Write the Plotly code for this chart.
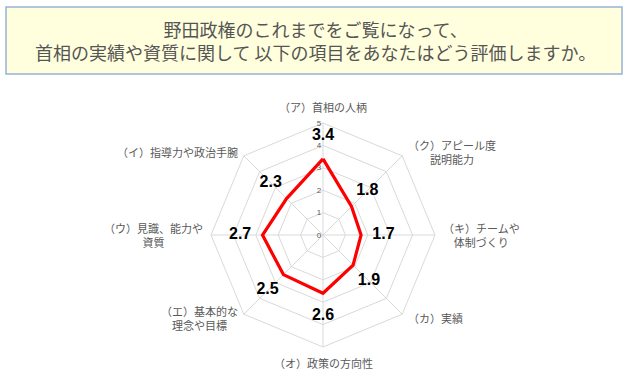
import math
import plotly.graph_objects as go

categories = ["（ア）首相の人柄", "（イ）指導力や政治手腕", "（ウ）見識、能力や<br>資質",
              "（エ）基本的な<br>理念や目標", "（オ）政策の方向性", "（カ）実績",
              "（キ）チームや<br>体制づくり", "（ク）アピール度<br>説明能力"]
values = [3.4, 2.3, 2.7, 2.5, 2.6, 1.9, 1.7, 1.8]
value_labels = ["3.4", "2.3", "2.7", "2.5", "2.6", "1.9", "1.7", "1.8"]
title_lines = ["野田政権のこれまでをご覧になって、",
               "首相の実績や資質に関して 以下の項目をあなたはどう評価しますか。"]

JP = "Noto Sans CJK JP"
W, H = 630, 392
cx, cy, R = 323, 235, 112

fig = go.Figure()
fig.add_trace(go.Scatterpolar(
    r=values + values[:1], theta=categories + categories[:1],
    mode="lines", line=dict(color="#FF0000", width=3.2), hoverinfo="skip", showlegend=False))
fig.add_trace(go.Scatterpolar(
    r=[v + 1.0 for v in values], theta=categories, mode="text",
    text=["<b>%s</b>" % t for t in value_labels],
    textfont=dict(family="Liberation Sans", size=16, color="#000000"),
    textposition="middle center", showlegend=False, hoverinfo="skip"))

# category labels as centred annotations around the polygon
annotations = []
n = len(categories)
for i, cat in enumerate(categories):
    ang = math.radians(90 + 360.0 * i / n)
    ca, sa = math.cos(ang), math.sin(ang)
    px = cx + (R + 6) * ca
    py = cy - (R + 6) * sa
    xa = "left" if ca > 0.1 else ("right" if ca < -0.1 else "center")
    ya = "bottom" if sa > 0.9 else ("top" if sa < -0.9 else "middle")
    annotations.append(dict(x=px / W, y=1 - py / H, xref="paper", yref="paper",
                            text=cat, showarrow=False, xanchor=xa, yanchor=ya,
                            align="center",
                            font=dict(family=JP, size=11, color="#595959")))

annotations.append(dict(x=315 / W, y=1 - 41 / H, xref="paper", yref="paper",
                        text="<br>".join(title_lines), showarrow=False,
                        xanchor="center", yanchor="middle",
                        font=dict(family=JP, size=18, color="#555555"), align="center"))

fig.update_layout(
    width=W, height=H, margin=dict(l=0, r=0, t=0, b=0),
    paper_bgcolor="white", plot_bgcolor="white",
    polar=dict(
        domain=dict(x=[(cx - R) / W, (cx + R) / W], y=[(H - cy - R) / H, (H - cy + R) / H]),
        gridshape="linear", bgcolor="white",
        radialaxis=dict(range=[0, 5], dtick=1, angle=90, tickangle=90, side="counterclockwise",
                        showline=False, gridcolor="#D9D9D9", gridwidth=1,
                        tickfont=dict(size=8, color="#595959", family="Liberation Sans"),
                        ticks=""),
        angularaxis=dict(rotation=90, direction="counterclockwise",
                         categoryorder="array", categoryarray=categories,
                         linecolor="#D9D9D9", gridcolor="#D9D9D9", linewidth=1,
                         showticklabels=False, ticks=""),
    ),
    shapes=[dict(type="rect", xref="paper", yref="paper",
                 x0=6 / W, x1=622 / W, y0=1 - 74 / H, y1=1 - 7 / H,
                 fillcolor="#FFFFDD", line=dict(color="#95B3D7", width=1.5), layer="below")],
    annotations=annotations,
)
fig.write_html("out.html")
